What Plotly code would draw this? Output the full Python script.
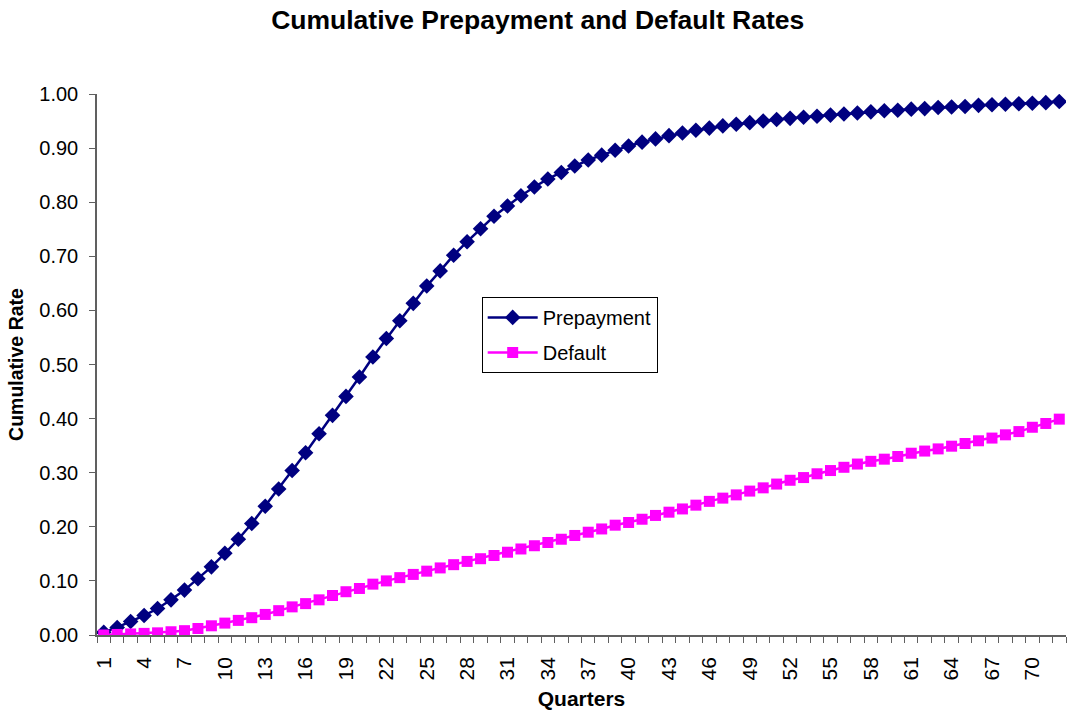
import plotly.graph_objects as go

# Quarter index (1..72)
quarters = list(range(1, 73))

# Cumulative prepayment rate by quarter
prepayment = [
    0.005, 0.014, 0.025, 0.036, 0.049, 0.065, 0.083, 0.104, 0.126, 0.151,
    0.177, 0.206, 0.238, 0.270, 0.304, 0.337, 0.372, 0.406, 0.441, 0.477,
    0.514, 0.548, 0.581, 0.613, 0.645, 0.673, 0.702, 0.727, 0.751, 0.774,
    0.793, 0.812, 0.828, 0.843, 0.855, 0.867, 0.878, 0.887, 0.896, 0.904,
    0.911, 0.917, 0.923, 0.928, 0.933, 0.937, 0.941, 0.944, 0.947, 0.950,
    0.953, 0.955, 0.957, 0.959, 0.961, 0.963, 0.965, 0.967, 0.969, 0.970,
    0.972, 0.973, 0.975, 0.976, 0.977, 0.979, 0.980, 0.981, 0.982, 0.983,
    0.984, 0.986,
]

# Cumulative default rate by quarter
default = [
    0.000, 0.001, 0.002, 0.003, 0.004, 0.006, 0.008, 0.012, 0.017, 0.022,
    0.027, 0.032, 0.038, 0.045, 0.052, 0.058, 0.065, 0.073, 0.080, 0.086,
    0.094, 0.100, 0.106, 0.112, 0.118, 0.124, 0.130, 0.136, 0.141, 0.147,
    0.153, 0.159, 0.165, 0.171, 0.177, 0.184, 0.190, 0.196, 0.203, 0.208,
    0.214, 0.221, 0.227, 0.233, 0.240, 0.247, 0.253, 0.259, 0.266, 0.272,
    0.279, 0.286, 0.291, 0.298, 0.304, 0.310, 0.316, 0.321, 0.325, 0.330,
    0.336, 0.340, 0.344, 0.349, 0.354, 0.359, 0.364, 0.370, 0.376, 0.384,
    0.391, 0.399,
]

x_tick_vals = list(range(1, 73, 3))
y_tick_vals = [i / 10 for i in range(11)]

FONT = "Arial, 'Liberation Sans', sans-serif"
AXIS_GREY = "#606060"

fig = go.Figure()
fig.add_trace(go.Scatter(
    x=quarters, y=prepayment, name="Prepayment", mode="lines+markers",
    legendgroup="prepayment",
    line=dict(color="#000080", width=2.5),
    marker=dict(symbol="diamond", size=12, color="#000080"),
))
fig.add_trace(go.Scatter(
    x=quarters, y=default, name="Default", mode="lines+markers",
    legendgroup="default",
    line=dict(color="#FF00FF", width=2.5),
    marker=dict(symbol="square", size=11, color="#FF00FF"),
))

fig.update_layout(
    width=1069, height=713,
    paper_bgcolor="white", plot_bgcolor="white",
    margin=dict(l=97, r=3, t=94, b=78),
    font=dict(family=FONT, color="black", size=20),
    title=dict(text="<b>Cumulative Prepayment and Default Rates</b>",
               x=0.503, xanchor="center", y=0.972, yanchor="middle",
               font=dict(size=26.5, family=FONT, color="black")),
    showlegend=True,
    legend=dict(x=0.397, y=0.625, xanchor="left", yanchor="top",
                bgcolor="white", bordercolor="black", borderwidth=1,
                font=dict(size=20, family=FONT, color="black"),
                tracegroupgap=6, itemwidth=50),
)

fig.update_xaxes(
    range=[0.5, 72.5],
    tickmode="array", tickvals=x_tick_vals, ticktext=[str(v) for v in x_tick_vals],
    tickangle=-90, ticks="", ticklen=0, ticklabelstandoff=12,
    tickfont=dict(size=21, family=FONT, color="black"),
    minor=dict(tick0=0.5, dtick=1, ticks="outside", ticklen=6,
               tickcolor=AXIS_GREY, tickwidth=1, showgrid=False),
    showline=True, linecolor=AXIS_GREY, linewidth=1.5,
    showgrid=False, zeroline=False,
    title=dict(text="<b>Quarters</b>", font=dict(size=21, family=FONT), standoff=12),
)
fig.update_yaxes(
    range=[0, 1],
    tickmode="array", tickvals=y_tick_vals,
    tickformat=".2f",
    ticks="outside", ticklen=6, tickcolor=AXIS_GREY, tickwidth=1,
    ticklabelstandoff=7,
    tickfont=dict(size=20, family=FONT, color="black"),
    showline=True, linecolor=AXIS_GREY, linewidth=1.5,
    showgrid=False, zeroline=False,
    title=dict(text="<b>Cumulative Rate</b>", font=dict(size=19.5, family=FONT), standoff=10),
)

fig.write_html("out.html")
